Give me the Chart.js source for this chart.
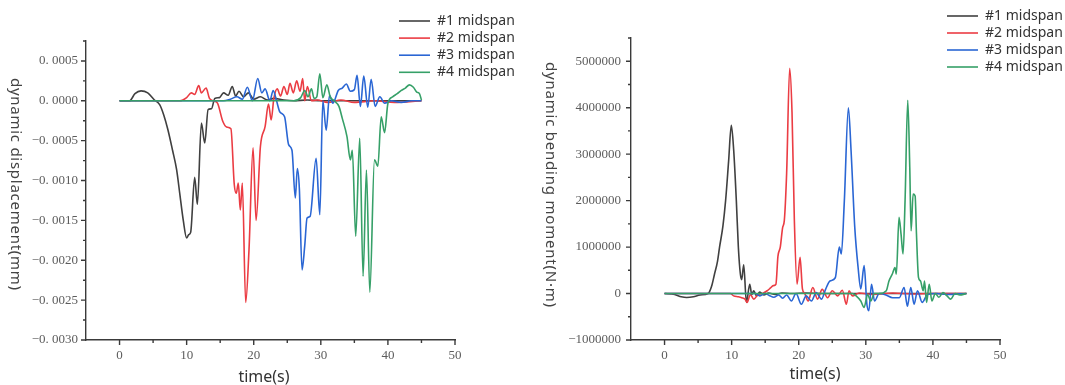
<!DOCTYPE html>
<html>
<head>
<meta charset="utf-8">
<title>midspan response</title>
<script src="https://cdn.jsdelivr.net/npm/chart.js@4.4.1/dist/chart.umd.min.js"></script>
<style>
  html, body { margin: 0; padding: 0; background: #fff; }
  #wrap { position: relative; width: 1065px; height: 385px; overflow: hidden; }
  .panel { position: absolute; top: 0; height: 385px; }
  #dispPanel { left: 0; width: 530px; }
  #momentPanel { left: 530px; width: 535px; }
</style>
</head>
<body>
<div id="wrap">
  <div class="panel" id="dispPanel"><canvas id="dispChart"></canvas></div>
  <div class="panel" id="momentPanel"><canvas id="momentChart"></canvas></div>
</div>
<script>
// series names and colours shared by both panels
const seriesLabels = ['#1 midspan', '#2 midspan', '#3 midspan', '#4 midspan'];
const seriesColors = ['#404040', '#eb3c43', '#2a66d4', '#36a068'];

// axis ticks
const timeTicks = [0, 10, 20, 30, 40, 50];
const timeMinorTicks = [5, 15, 25, 35, 45];
const dispTicks = [-0.003, -0.0025, -0.002, -0.0015, -0.001, -0.0005, 0, 0.0005];
const dispMinorTicks = [-0.00275, -0.00225, -0.00175, -0.00125, -0.00075, -0.00025, 0.00025, 0.00075];
const momentTicks = [-1000000, 0, 1000000, 2000000, 3000000, 4000000, 5000000];
const momentMinorTicks = [-500000, 500000, 1500000, 2500000, 3500000, 4500000, 5500000];

// dynamic displacement (mm) at each midspan
const dispTime1 = [0, 1.5, 2.3, 3.2, 4.2, 5.2, 6.0, 6.6, 7.2, 7.9, 8.5, 9.0, 9.5, 10.0, 10.3, 10.6, 11.2, 11.6, 12.2, 12.7, 13.2, 13.7, 14.2, 14.9, 15.5, 16.2, 16.8, 17.3, 17.8, 18.5, 19.2, 20.0, 21.0, 22.0, 23.0, 24.5, 26, 28, 30, 35, 40, 45];
const dispValue1 = [0, 0, 0.00009, 0.000125, 0.0001, 0.00001, -0.00005, -0.00018, -0.00036, -0.00062, -0.00086, -0.00118, -0.0015, -0.00172, -0.00168, -0.00165, -0.00096, -0.0013, -0.00028, -0.00053, -0.00011, -0.0001, 0.00003, 0.00004, 0.0001, 0.00007, 0.00018, 0.00006, 0.00012, 0.00005, 0.0001, 0.00002, 0.00005, 0.00001, 0.00003, 0.00001, 0, 0.00001, 0, 0, 0, 0];

const dispTime2 = [0, 9.0, 10.0, 10.7, 11.2, 11.8, 12.2, 12.9, 13.4, 14.0, 14.6, 15.4, 16.0, 16.6, 17.1, 17.4, 17.7, 18.0, 18.3, 18.8, 19.3, 19.9, 20.35, 21.0, 21.7, 22.2, 22.6, 23.0, 23.5, 24.0, 24.5, 25.0, 25.4, 25.9, 26.4, 26.9, 27.3, 27.6, 28.0, 28.6, 29.5, 31, 33, 35, 38, 41, 45];
const dispValue2 = [0, 0, 0.00004, 0.0001, 0.00008, 0.00019, 0.0001, 0.00016, 0.00003, 0, -0.00003, -0.00026, -0.00033, -0.00035, -0.00105, -0.00116, -0.00103, -0.00137, -0.00103, -0.00253, -0.00186, -0.00059, -0.0015, -0.00057, -0.00032, -0.00004, -0.00024, 0.00003, 0.00015, 0.00006, 0.00018, 0.00008, 0.00022, 0.0001, 0.00025, 0.00012, 0.00028, 0, 0.00018, 0, 0.00001, -0.00002, 0.00001, -0.00002, 0, -0.00002, 0];

const dispTime3 = [0, 15.5, 16.5, 17.5, 18.3, 19.05, 19.8, 20.6, 21.2, 21.7, 22.4, 22.9, 23.4, 23.9, 24.6, 25.2, 25.7, 26.2, 26.5, 26.8, 27.2, 27.6, 27.95, 28.4, 29.3, 29.85, 30.3, 30.8, 31.3, 31.8, 32.6, 33.2, 33.8, 34.4, 35.0, 35.4, 35.9, 36.4, 37.0, 37.5, 38.1, 38.8, 39.5, 40.5, 42, 43.5, 45];
const dispValue3 = [0, 0, 0.00002, 0.00005, 0.00002, 0.00017, 0, 0.00028, 0.0001, 0.00015, 0, 0.00013, 0, -0.00014, -0.0002, -0.00055, -0.00062, -0.00122, -0.00085, -0.0011, -0.00212, -0.00182, -0.00147, -0.00145, -0.00072, -0.00143, 0, -0.00037, 0.00007, -0.00003, 0.00013, 0.00016, 0.00021, 0.00012, 0.00014, 0.00032, -0.00007, 0.00031, -0.00008, 0.00027, -0.00007, 0.00005, -0.00003, 0, -0.00002, 0, 0];

const dispTime4 = [0, 26.0, 27.0, 27.6, 28.1, 28.6, 29.0, 29.4, 29.85, 30.3, 30.9, 31.4, 32.0, 32.7, 33.2, 33.9, 34.4, 34.7, 35.2, 35.8, 36.3, 36.8, 37.3, 38.0, 38.5, 39.0, 39.5, 40.0, 40.7, 41.4, 42.0, 42.6, 43.2, 43.8, 44.3, 44.7, 45];
const dispValue4 = [0, 0, 0.00004, 0.00013, 0.00005, 0.00015, 0.00003, 0.00005, 0.00034, 0.00004, 0.0002, 0.00005, 0, -0.00007, -0.00022, -0.00045, -0.00074, -0.00062, -0.0017, -0.00047, -0.0022, -0.00087, -0.0024, -0.00074, -0.00082, -0.0002, -0.0004, -0.00003, 0.00005, 0.00009, 0.00013, 0.00016, 0.0002, 0.00017, 0.00011, 0.00009, 0.00001];

// dynamic bending moment (N·m) at each midspan
const momentTime1 = [0, 1.5, 2.5, 3.3, 4.3, 5.3, 6.5, 7.0, 7.45, 7.9, 8.2, 8.7, 9.1, 9.55, 9.95, 10.3, 10.7, 11.0, 11.3, 11.5, 11.8, 12.2, 12.7, 13.0, 13.3, 13.7, 14.2, 14.8, 15.5, 16.5, 17.5, 19, 21, 24, 28, 33, 38, 45];
const momentValue1 = [0, -20000, -70000, -86000, -70000, -30000, 0, 150000, 420000, 700000, 1000000, 1450000, 2000000, 2850000, 3620000, 3100000, 2000000, 1000000, 420000, 300000, 620000, -190000, 200000, -20000, 60000, -50000, 30000, -30000, 10000, -20000, 10000, 0, 10000, 0, 0, 0, 0, 0];

const momentTime2 = [0, 9.8, 10.3, 11.0, 11.5, 12.0, 12.3, 12.8, 13.3, 13.9, 14.6, 15.3, 15.8, 16.2, 16.6, 16.9, 17.25, 17.6, 17.85, 18.2, 18.65, 19.0, 19.35, 19.75, 20.2, 20.55, 20.9, 21.4, 22.1, 22.8, 23.5, 24.3, 25.0, 25.8, 26.5, 27.1, 27.5, 28.0, 29, 31, 34, 37, 40, 45];
const momentValue2 = [0, 0, -50000, -70000, -90000, -120000, -190000, -20000, -120000, -30000, 0, 60000, 120000, 170000, 200000, 800000, 1000000, 1420000, 1570000, 2600000, 4850000, 3900000, 1570000, 200000, 780000, 100000, 0, -160000, 130000, -120000, 90000, -90000, 60000, -50000, 70000, -230000, 60000, -50000, 10000, -20000, 10000, -10000, 0, 0];

const momentTime3 = [0, 13.5, 14.2, 15.0, 15.6, 16.3, 17.0, 17.6, 18.2, 18.9, 19.6, 20.4, 21.1, 21.9, 22.6, 23.4, 24.0, 24.65, 25.45, 26.05, 26.35, 26.8, 27.4, 27.8, 28.35, 28.85, 29.25, 29.75, 30.15, 30.45, 30.85, 31.3, 32.0, 33.0, 34.0, 35.0, 35.7, 36.2, 36.7, 37.2, 37.7, 38.4, 39.2, 40.5, 42, 45];
const momentValue3 = [0, 0, -50000, 0, -40000, -80000, -30000, -100000, -30000, -160000, 0, -230000, -50000, -160000, 20000, -120000, 90000, 270000, 340000, 1000000, 850000, 2000000, 4000000, 3080000, 1430000, 560000, 100000, 600000, -220000, -370000, 200000, -160000, 0, -30000, -90000, -90000, 130000, -270000, 130000, -230000, 60000, -190000, -20000, 0, -20000, 0];

const momentTime4 = [0, 28.0, 28.55, 29.25, 29.75, 30.25, 30.75, 31.25, 32.0, 33.05, 33.45, 33.95, 34.35, 34.55, 34.95, 35.25, 35.55, 35.85, 36.25, 36.55, 36.75, 37.05, 37.35, 37.55, 37.85, 38.15, 38.55, 38.75, 39.05, 39.45, 39.85, 40.35, 40.9, 41.5, 42.1, 42.65, 43.3, 44.0, 45];
const momentValue4 = [0, 0, -50000, -160000, -300000, -20000, -160000, 0, 0, 60000, 270000, 420000, 560000, 420000, 1640000, 1280000, 850000, 2000000, 4160000, 2720000, 1350000, 2140000, 2100000, 1280000, 350000, 270000, 60000, 270000, -190000, 200000, -160000, 0, -80000, 20000, -50000, -120000, 0, -30000, 0];

const axisColor = '#3a3a3a';
const tickColor = '#5c5c5c';
const tickFont = { family: "'Liberation Serif', 'DejaVu Serif', serif", size: 13 };

function makeDatasets(times, values) {
  return values.map((vals, i) => ({
    label: seriesLabels[i],
    data: vals.map((v, k) => ({ x: times[i][k], y: v })),
    borderColor: seriesColors[i],
    backgroundColor: seriesColors[i],
    borderWidth: 1.6,
    pointRadius: 0,
    fill: false,
    cubicInterpolationMode: 'monotone',
    order: 3 - i   // green ends up drawn last
  }));
}

// tick marks, time labels, axis titles and the legend block
function axisDecor(cfg) {
  return {
    id: 'axisDecor',
    afterDraw(chart) {
      const { ctx, chartArea: area } = chart;
      const x = chart.scales.x, y = chart.scales.y;
      ctx.save();

      ctx.strokeStyle = axisColor;
      ctx.lineWidth = 1.4;
      ctx.beginPath();
      const mark = (px, py, dx, dy) => { ctx.moveTo(px, py); ctx.lineTo(px + dx, py + dy); };
      timeTicks.forEach(v => mark(x.getPixelForValue(v), area.bottom, 0, 5));
      timeMinorTicks.forEach(v => mark(x.getPixelForValue(v), area.bottom, 0, 3));
      cfg.yMajor.forEach(v => mark(area.left, y.getPixelForValue(v), -5, 0));
      cfg.yMinor.forEach(v => mark(area.left, y.getPixelForValue(v), -3, 0));
      ctx.stroke();

      // time tick labels
      ctx.fillStyle = tickColor;
      ctx.font = tickFont.size + 'px ' + tickFont.family;
      ctx.textAlign = 'center';
      ctx.textBaseline = 'middle';
      timeTicks.forEach(v => ctx.fillText(String(v), x.getPixelForValue(v), area.bottom + 16));

      // x title
      ctx.fillStyle = '#333';
      ctx.font = '16px "Noto Sans", sans-serif';
      ctx.fillText(cfg.xTitle.text, cfg.xTitle.x, cfg.xTitle.y);

      // y title, reads top to bottom
      const yt = cfg.yTitle;
      ctx.save();
      ctx.translate(yt.x, yt.y);
      ctx.rotate(Math.PI / 2);
      ctx.font = '15px "Noto Sans", sans-serif';
      ctx.fillStyle = '#444';
      const w = ctx.measureText(yt.text).width;
      ctx.letterSpacing = ((yt.length - w) / (yt.text.length - 1)).toFixed(2) + 'px';
      ctx.textAlign = 'left';
      ctx.fillText(yt.text, -yt.length / 2, 0);
      ctx.restore();

      // legend
      const lg = cfg.legend;
      ctx.font = '14px "Noto Sans", sans-serif';
      ctx.textAlign = 'left';
      ctx.textBaseline = 'middle';
      chart.data.datasets.forEach((ds, i) => {
        const ly = lg.y + i * lg.gap;
        ctx.strokeStyle = ds.borderColor;
        ctx.lineWidth = 1.6;
        ctx.beginPath();
        ctx.moveTo(lg.x, ly);
        ctx.lineTo(lg.x + 31, ly);
        ctx.stroke();
        ctx.fillStyle = '#333';
        ctx.fillText(ds.label, lg.x + 38, ly);
      });

      ctx.restore();
    }
  };
}

function buildChart(canvasId, opts) {
  return new Chart(document.getElementById(canvasId), {
    type: 'line',
    data: { datasets: opts.datasets },
    options: {
      responsive: true,
      maintainAspectRatio: false,
      animation: false,
      layout: { padding: opts.padding },
      plugins: { legend: { display: false }, tooltip: { enabled: false } },
      scales: {
        x: {
          type: 'linear',
          min: -5,
          max: 50,
          afterBuildTicks: s => { s.ticks = timeTicks.map(v => ({ value: v })); },
          afterFit: s => { s.height = 45; },
          grid: { display: false, drawTicks: false },
          border: { display: true, color: axisColor, width: 1.4 },
          ticks: { display: false }
        },
        y: {
          type: 'linear',
          min: opts.yMin,
          max: opts.yMax,
          afterBuildTicks: s => { s.ticks = opts.yMajor.map(v => ({ value: v })); },
          afterFit: s => { s.width = opts.yWidth; },
          grid: { display: false, drawTicks: false },
          border: { display: true, color: axisColor, width: 1.4 },
          ticks: { padding: opts.yPad, color: tickColor, font: tickFont, autoSkip: false, callback: opts.yFormat }
        }
      }
    },
    plugins: [axisDecor(opts.decor)]
  });
}

buildChart('dispChart', {
  datasets: makeDatasets([dispTime1, dispTime2, dispTime3, dispTime4], [dispValue1, dispValue2, dispValue3, dispValue4]),
  padding: { top: 41, right: 75, left: 0, bottom: 0 },
  yMin: -0.003,
  yMax: 0.00075,
  yMajor: dispTicks,
  yWidth: 86,
  yPad: 8,
  yFormat: v => v.toFixed(4).replace('.', '. ').replace('-', '\u2212'),
  decor: {
    yMajor: dispTicks,
    yMinor: dispMinorTicks,
    xTitle: { text: 'time(s)', x: 264, y: 377 },
    yTitle: { text: 'dynamic displacement(mm)', x: 15, y: 184, length: 212 },
    legend: { x: 399, y: 21, gap: 17.1 }
  }
});

buildChart('momentChart', {
  datasets: makeDatasets([momentTime1, momentTime2, momentTime3, momentTime4], [momentValue1, momentValue2, momentValue3, momentValue4]),
  padding: { top: 38, right: 65, left: 0, bottom: 0 },
  yMin: -1000000,
  yMax: 5500000,
  yMajor: momentTicks,
  yWidth: 101,
  yPad: 10,
  yFormat: v => String(v).replace('-', '\u2212'),
  decor: {
    yMajor: momentTicks,
    yMinor: momentMinorTicks,
    xTitle: { text: 'time(s)', x: 285, y: 374 },
    yTitle: { text: 'dynamic bending moment(N·m)', x: 20, y: 184.5, length: 245 },
    legend: { x: 417, y: 16, gap: 17 }
  }
});
</script>
</body>
</html>
